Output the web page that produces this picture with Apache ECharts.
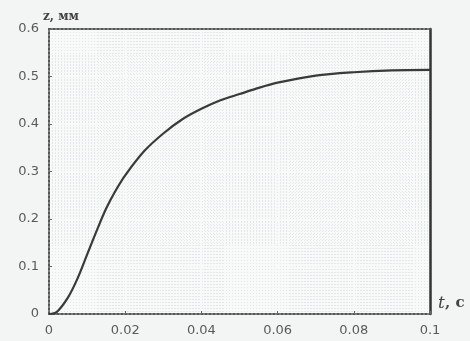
<!DOCTYPE html>
<html>
<head>
<meta charset="utf-8">
<script src="https://cdn.jsdelivr.net/npm/echarts@6/dist/echarts.min.js"></script>
<style>
  html, body { margin: 0; padding: 0; background: #f3f4f4; }
  #main { width: 470px; height: 341px; }
</style>
</head>
<body>
<div id="main"></div>
<script>
// t, s
const tVals = [0, 0.002, 0.005, 0.0075, 0.01, 0.0125, 0.015, 0.0175, 0.02, 0.025, 0.03,
  0.035, 0.04, 0.045, 0.05, 0.055, 0.06, 0.07, 0.08, 0.09, 0.1];
// z, mm
const zVals = [0, 0.004, 0.035, 0.075, 0.125, 0.175, 0.222, 0.26, 0.292, 0.343, 0.38,
  0.41, 0.432, 0.45, 0.463, 0.476, 0.487, 0.502, 0.509, 0.513, 0.514];

const xTicks = [0, 0.02, 0.04, 0.06, 0.08, 0.1];
const yTicks = [0, 0.1, 0.2, 0.3, 0.4, 0.5, 0.6];

const chart = echarts.init(document.getElementById('main'));

const labelStyle = {
  color: '#5a5a5a',
  fontFamily: 'DejaVu Sans',
  fontSize: 13
};

const option = {
  backgroundColor: '#f3f4f4',
  animation: false,
  grid: {
    left: 49, right: 40, top: 29, bottom: 27,
    show: true,
    backgroundColor: '#f8f9f9',
    borderWidth: 0
  },
  xAxis: [
    {
      type: 'value',
      min: 0, max: 0.1, interval: 0.02,
      name: 't',
      nameLocation: 'end',
      nameGap: 8,
      nameTextStyle: {
        fontFamily: 'DejaVu Serif', fontStyle: 'italic', fontSize: 17,
        color: '#444', verticalAlign: 'bottom', padding: [0, 0, 2, 0]
      },
      axisLine: { onZero: false, lineStyle: { color: '#555', width: 2, type: [2, 2] } },
      axisTick: { inside: true, length: 3, lineStyle: { color: '#666' } },
      axisLabel: Object.assign({}, labelStyle, {
        margin: 10,
        formatter: v => xTicks.includes(+v.toFixed(2)) ? String(+v.toFixed(2)) : ''
      }),
      splitLine: { show: false },
      minorTick: { show: false, splitNumber: 25 },
      minorSplitLine: { show: true, lineStyle: { color: '#e4e7e7', type: [1, 2], width: 1 } }
    },
    {
      type: 'value', position: 'top',
      min: 0, max: 0.1,
      axisLine: { show: true, onZero: false, lineStyle: { color: '#555', width: 2, type: [2, 2] } },
      axisTick: { show: false },
      axisLabel: { show: false },
      splitLine: { show: false }
    }
  ],
  yAxis: [
    {
      type: 'value',
      min: 0, max: 0.6, interval: 0.1,
      name: 'z, мм',
      nameLocation: 'end',
      nameGap: 6,
      nameTextStyle: {
        fontFamily: 'DejaVu Serif', fontWeight: 'bold', fontSize: 12,
        color: '#444', align: 'left', padding: [0, 0, 0, -6]
      },
      axisLine: { show: true, onZero: false, lineStyle: { color: '#555', width: 2, type: [2, 2] } },
      axisTick: { inside: true, length: 3, lineStyle: { color: '#666' } },
      axisLabel: Object.assign({}, labelStyle, {
        margin: 10,
        formatter: v => {
          const r = +v.toFixed(1);
          return yTicks.includes(r) ? String(r) : '';
        }
      }),
      splitLine: { show: false },
      minorTick: { show: false, splitNumber: 16 },
      minorSplitLine: { show: true, lineStyle: { color: '#e4e7e7', type: [1, 2], width: 1 } }
    },
    {
      type: 'value', position: 'right',
      min: 0, max: 0.6,
      axisLine: { show: true, onZero: false, lineStyle: { color: '#333', width: 2.5 } },
      axisTick: { show: false },
      axisLabel: { show: false },
      splitLine: { show: false }
    }
  ],
  graphic: [
    {
      type: 'text', left: 445, top: 296,
      style: { text: ', с', fill: '#444', font: 'bold 15px "DejaVu Serif"' }
    }
  ],
  series: [
    {
      type: 'line',
      data: tVals.map((t, i) => [t, zVals[i]]),
      smooth: 0.3,
      symbol: 'none',
      lineStyle: { color: '#3a3a3a', width: 2.2 }
    }
  ]
};

chart.setOption(option);
</script>
</body>
</html>
